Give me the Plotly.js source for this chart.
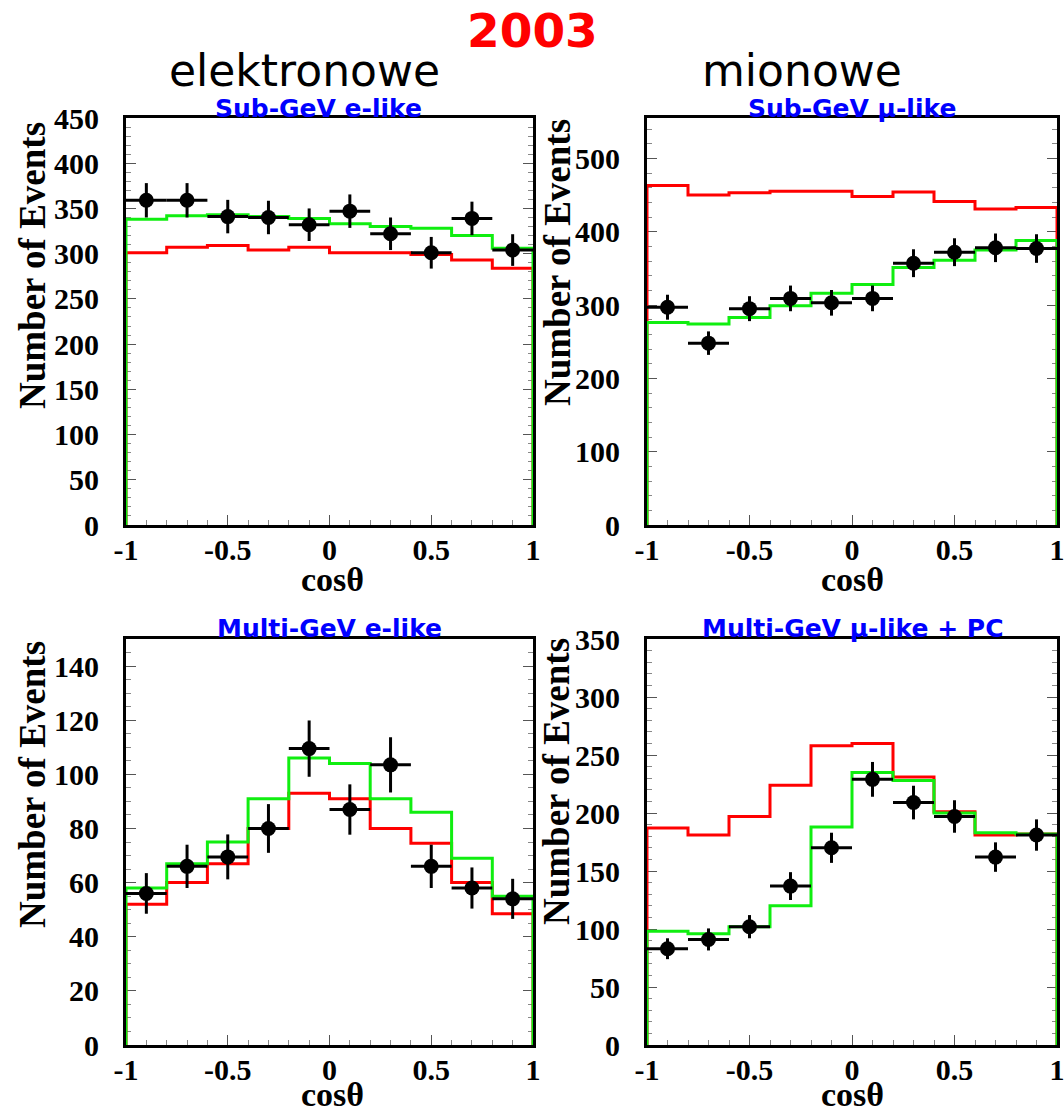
<!DOCTYPE html>
<html><head><meta charset="utf-8">
<script src="https://cdn.plot.ly/plotly-3.0.1.min.js"></script>
<style>html,body{margin:0;padding:0;background:#fff}#chart{width:1064px;height:1109px}</style>
</head><body><div id="chart"></div>
<script>
// ---- data ----
const binEdges   = [-1, -0.8, -0.6, -0.4, -0.2, 0, 0.2, 0.4, 0.6, 0.8, 1];
const binCenters = [-0.9, -0.7, -0.5, -0.3, -0.1, 0.1, 0.3, 0.5, 0.7, 0.9];

const subE_data   = [359, 359, 341, 340, 332, 347, 322, 301, 339, 304];
const subE_err    = [19, 19, 18.5, 18.5, 18, 18.5, 18, 17.5, 18.5, 17.5];
const subE_osc    = [338, 342, 343, 341, 339, 333, 330, 328, 320, 306];
const subE_noosc  = [301, 307, 309, 304, 307, 301, 301, 299, 293, 284];

const subMu_data  = [297, 248, 295, 309, 303, 309, 357, 372, 378, 377];
const subMu_err   = [17, 16, 17, 17.5, 17.5, 17.5, 19, 19, 19.5, 19.5];
const subMu_osc   = [276, 274, 283, 299, 316, 328, 351, 361, 375, 388];
const subMu_noosc = [463, 450, 453, 455, 455, 448, 454, 441, 431, 433];

const multiE_data  = [56, 66, 69.5, 80, 109.5, 87, 103.5, 66, 58, 54];
const multiE_err   = [7.5, 8, 8.3, 9, 10.4, 9.3, 10.2, 8, 7.6, 7.4];
const multiE_osc   = [58, 67, 75, 91, 106, 104, 91, 86, 69, 55];
const multiE_noosc = [52, 60, 67, 80, 93, 91, 80, 74.5, 60, 48.5];

const multiMu_data  = [83, 91, 102, 137, 170, 229, 209, 197, 162, 181];
const multiMu_err   = [9, 9.5, 10, 12, 13, 15, 14.5, 14, 12.7, 13.5];
const multiMu_osc   = [98, 96, 102, 120, 188, 235, 228, 200, 183, 182];
const multiMu_noosc = [187, 181, 197, 224, 258, 260, 231, 201, 181, 182];

const xTickVals = [-1, -0.5, 0, 0.5, 1];
const xTickText = ['-1', '-0.5', '0', '0.5', '1'];
const yTicks1 = [0, 50, 100, 150, 200, 250, 300, 350, 400, 450];
const yTicks2 = [0, 100, 200, 300, 400, 500];
const yTicks3 = [0, 20, 40, 60, 80, 100, 120, 140];
const yTicks4 = [0, 50, 100, 150, 200, 250, 300, 350];

const panelTitles = ['Sub-GeV e-like', 'Sub-GeV \u03bc-like', 'Multi-GeV e-like', 'Multi-GeV \u03bc-like + PC'];
const yTitle = 'Number of Events';
const xTitle = 'cos\u03b8';
const yearText = '2003';
const colTitles = ['elektronowe', 'mionowe'];

// ---- drawing ----
const W = 1064, H = 1109;
const px = v => v / W;
const py = v => 1 - v / H;
const RED = '#ff0000', GREEN = '#10ee10';

function stepX() { return [binEdges[0], ...binEdges.slice(0, binEdges.length - 1), binEdges[binEdges.length - 1]]; }
function stepY(v) { return [0, ...v, 0]; }
const halfW = binCenters.map((c, i) => (binEdges[i + 1] - binEdges[i]) / 2);

function panel(xa, ya, data, err, osc, noosc) {
  return [
    {x: stepX(), y: stepY(noosc), xaxis: xa, yaxis: ya, mode: 'lines', line: {shape: 'hv', color: RED, width: 3}, hoverinfo: 'skip'},
    {x: stepX(), y: stepY(osc), xaxis: xa, yaxis: ya, mode: 'lines', line: {shape: 'hv', color: GREEN, width: 3}, hoverinfo: 'skip'},
    {x: binCenters, y: data, xaxis: xa, yaxis: ya, mode: 'markers', marker: {color: '#000', size: 15},
     error_y: {type: 'data', array: err, thickness: 3, width: 0, color: '#000'},
     error_x: {type: 'data', array: halfW, thickness: 3, width: 0, color: '#000'}, cliponaxis: false}
  ];
}

const traces = [
  ...panel('x', 'y', subE_data, subE_err, subE_osc, subE_noosc),
  ...panel('x2', 'y2', subMu_data, subMu_err, subMu_osc, subMu_noosc),
  ...panel('x3', 'y3', multiE_data, multiE_err, multiE_osc, multiE_noosc),
  ...panel('x4', 'y4', multiMu_data, multiMu_err, multiMu_osc, multiMu_noosc)
];

const tickFont = {family: 'Liberation Serif, Times New Roman, serif', size: 30, color: '#000', weight: 'bold'};

function xax(l, r, anchor) {
  return {domain: [px(l), px(r)], anchor: anchor, range: [-1, 1], tickmode: 'array', tickvals: xTickVals, ticktext: xTickText,
    ticks: 'inside', ticklen: 10, tickwidth: 1, tickcolor: '#555',
    minor: {tick0: -1, dtick: 0.1, ticks: 'inside', ticklen: 5, tickwidth: 1, tickcolor: '#888'},
    showline: true, linewidth: 3, linecolor: '#000', mirror: true, showgrid: false, zeroline: false,
    tickfont: tickFont, ticklabelstandoff: -4, ticklabeloverflow: 'allow', layer: 'below traces', fixedrange: true};
}
function yax(t, b, anchor, top, ticks, minorStep) {
  return {domain: [py(b), py(t)], anchor: anchor, range: [0, top], tickmode: 'array', tickvals: ticks, ticktext: ticks.map(String),
    ticks: 'inside', ticklen: 10, tickwidth: 1, tickcolor: '#555',
    minor: {tick0: 0, dtick: minorStep, ticks: 'inside', ticklen: 5, tickwidth: 1, tickcolor: '#888'},
    showline: true, linewidth: 3, linecolor: '#000', mirror: 'ticks', showgrid: false, zeroline: false,
    tickfont: tickFont, ticklabelstandoff: 18, ticklabeloverflow: 'allow', layer: 'below traces', fixedrange: true};
}

const L1 = 126, R1 = 533, L2 = 647, R2 = 1057;
const T1 = 118, B1 = 525, T2 = 639, B2 = 1045;

const layout = {
  width: W, height: H, margin: {l: 0, r: 0, t: 0, b: 0}, paper_bgcolor: '#fff', plot_bgcolor: '#fff', showlegend: false,
  xaxis: xax(L1, R1, 'y'), yaxis: yax(T1, B1, 'x', 450, yTicks1, 10),
  xaxis2: xax(L2, R2, 'y2'), yaxis2: yax(T1, B1, 'x2', 555, yTicks2, 20),
  xaxis3: xax(L1, R1, 'y3'), yaxis3: yax(T2, B2, 'x3', 150, yTicks3, 5),
  xaxis4: xax(L2, R2, 'y4'), yaxis4: yax(T2, B2, 'x4', 350, yTicks4, 10),
  annotations: []
};

const ann = (x, y, text, font, extra) => Object.assign({xref: 'paper', yref: 'paper', x: px(x), y: py(y), text: text,
  showarrow: false, xanchor: 'center', yanchor: 'middle', font: font}, extra || {});

const blueFont = {family: 'DejaVu Sans, sans-serif', size: 25, color: '#0000ff', weight: 'bold'};
const yTitleFont = {family: 'Liberation Serif, Times New Roman, serif', size: 37, color: '#000', weight: 'bold'};
const xTitleFont = {family: 'Liberation Serif, Times New Roman, serif', size: 34, color: '#000', weight: 'bold'};

layout.annotations.push(ann(532, 30, yearText, {family: 'DejaVu Sans, sans-serif', size: 47, color: '#ff0000', weight: 'bold'}));
layout.annotations.push(ann(304, 70, colTitles[0], {family: 'DejaVu Sans, sans-serif', size: 44, color: '#000'}));
layout.annotations.push(ann(802, 70, colTitles[1], {family: 'DejaVu Sans, sans-serif', size: 44, color: '#000'}));

layout.annotations.push(ann(318, 109, panelTitles[0], blueFont));
layout.annotations.push(ann(852, 109, panelTitles[1], blueFont));
layout.annotations.push(ann(329, 628, panelTitles[2], blueFont));
layout.annotations.push(ann(853, 628, panelTitles[3], blueFont));

layout.annotations.push(ann(32, 266, yTitle, yTitleFont, {textangle: -90}));
layout.annotations.push(ann(558, 263, yTitle, yTitleFont, {textangle: -90}));
layout.annotations.push(ann(32, 785, yTitle, yTitleFont, {textangle: -90}));
layout.annotations.push(ann(557, 782, yTitle, yTitleFont, {textangle: -90}));

layout.annotations.push(ann(332, 579, xTitle, xTitleFont));
layout.annotations.push(ann(852, 579, xTitle, xTitleFont));
layout.annotations.push(ann(332, 1094, xTitle, xTitleFont));
layout.annotations.push(ann(852, 1094, xTitle, xTitleFont));

Plotly.newPlot('chart', traces, layout, {displayModeBar: false, staticPlot: true});
</script></body></html>
